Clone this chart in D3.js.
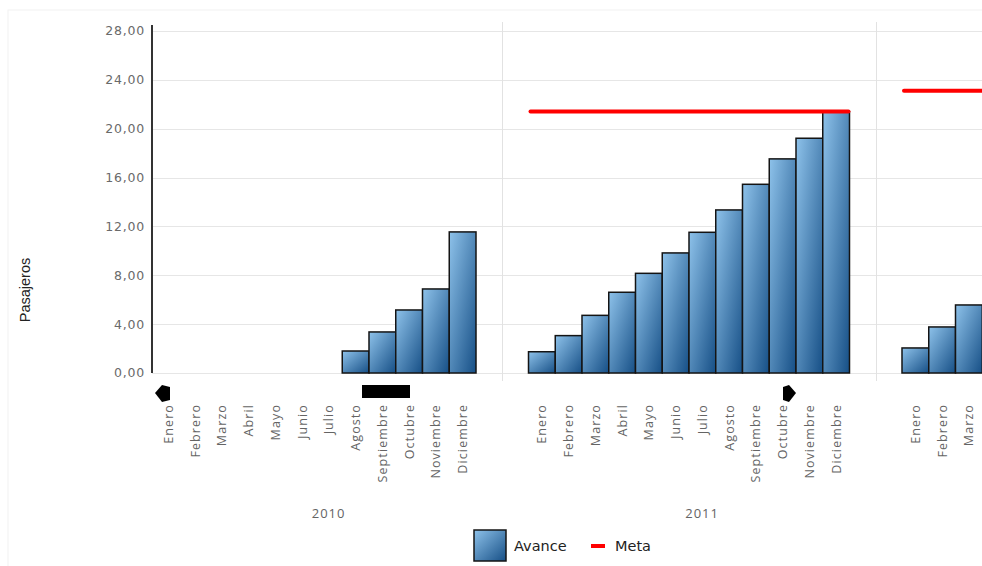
<!DOCTYPE html>
<html>
<head>
<meta charset="utf-8">
<script src="https://cdn.jsdelivr.net/npm/d3@7"></script>
<style>
  html, body { margin: 0; padding: 0; background: #fff; overflow: hidden; }
  svg { display: block; }
</style>
</head>
<body>
<svg id="chart" width="982" height="566"></svg>
<script>
// ---- data ----
const years = ["2010", "2011", "2012"];
const months = ["Enero", "Febrero", "Marzo", "Abril", "Mayo", "Junio", "Julio",
                "Agosto", "Septiembre", "Octubre", "Noviembre", "Diciembre"];
const avance2010 = [null, null, null, null, null, null, null, 1.80, 3.36, 5.16, 6.88, 11.55];
const avance2011 = [1.74, 3.06, 4.72, 6.61, 8.16, 9.83, 11.52, 13.35, 15.45, 17.53, 19.22, 21.40];
const avance2012 = [2.05, 3.77, 5.57, null, null, null, null, null, null, null, null, null];
const meta = [null, 21.40, 23.10];
const yTicks = [0, 4, 8, 12, 16, 20, 24, 28];
const seriesNames = ["Avance", "Meta"];

const avanceByYear = [avance2010, avance2011, avance2012];

// ---- layout ----
const W = 982, H = 566;
const plotLeft = 152, plotTop = 31, plotBottom = 373;
const svg = d3.select("#chart");

const defs = svg.append("defs");
const grad = defs.append("linearGradient").attr("id", "barGrad")
  .attr("x1", 0).attr("y1", 0).attr("x2", 1).attr("y2", 1);
grad.append("stop").attr("offset", "0%").attr("stop-color", "#8ec2ea");
grad.append("stop").attr("offset", "100%").attr("stop-color", "#164f86");

defs.append("clipPath").attr("id", "plotClip").append("rect")
  .attr("x", plotLeft).attr("y", 0).attr("width", W - plotLeft).attr("height", H);

const y = d3.scaleLinear().domain([0, 28]).range([plotBottom, plotTop]);

const yearStep = 373.5, gap = 52.5;
const xYear = d3.scaleBand().domain(years)
  .range([155, 155 + 3 * yearStep - gap])
  .paddingInner(gap / yearStep).paddingOuter(0);
const xMonth = d3.scaleBand().domain(months).range([0, xYear.bandwidth()]).padding(0);

// faint outer frame
svg.append("rect").attr("x", 8).attr("y", 10).attr("width", W).attr("height", H)
  .attr("fill", "none").attr("stroke", "#f2f2f2").attr("stroke-width", 1);

// horizontal grid
svg.append("g").selectAll("line").data(yTicks).join("line")
  .attr("x1", plotLeft).attr("x2", W)
  .attr("y1", d => Math.round(y(d)) + 0.5).attr("y2", d => Math.round(y(d)) + 0.5)
  .attr("stroke", "#e6e6e6").attr("stroke-width", 1);

// vertical separators between years
svg.append("g").selectAll("line").data(years.slice(1)).join("line")
  .attr("x1", d => Math.round(xYear(d) - gap / 2) + 0.5)
  .attr("x2", d => Math.round(xYear(d) - gap / 2) + 0.5)
  .attr("y1", 22).attr("y2", 381)
  .attr("stroke", "#e2e2e2").attr("stroke-width", 1);

// y axis labels
const yAxis = svg.append("g");
yAxis.selectAll("text").data(yTicks).join("text")
  .attr("x", 145).attr("y", d => y(d)).attr("dy", "0.35em")
  .attr("text-anchor", "end")
  .attr("font-family", "DejaVu Sans, Verdana, sans-serif")
  .attr("font-size", 12.5).attr("letter-spacing", 0.8)
  .attr("fill", "#6a6a6a")
  .text(d => d3.format(".2f")(d).replace(".", ","));

// y axis line
svg.append("line").attr("x1", plotLeft).attr("x2", plotLeft)
  .attr("y1", 25).attr("y2", plotBottom)
  .attr("stroke", "#333").attr("stroke-width", 2);

// y title
svg.append("text")
  .attr("transform", `translate(30,290) rotate(-90)`)
  .attr("text-anchor", "middle")
  .attr("font-family", "Liberation Sans, Arial, sans-serif")
  .attr("font-size", 14.5).attr("fill", "#222")
  .text("Pasajeros");

const plot = svg.append("g").attr("clip-path", "url(#plotClip)");

// bars
years.forEach((yr, i) => {
  const data = months.map((m, j) => ({ m, v: avanceByYear[i][j] })).filter(d => d.v != null);
  plot.append("g").selectAll("rect").data(data).join("rect")
    .attr("x", d => xYear(yr) + xMonth(d.m))
    .attr("width", xMonth.bandwidth())
    .attr("y", d => y(d.v))
    .attr("height", d => y(0) - y(d.v))
    .attr("fill", "url(#barGrad)")
    .attr("stroke", "#141414").attr("stroke-width", 1.5);
});

// meta lines
plot.append("g").selectAll("line").data(years.map((yr, i) => ({ yr, v: meta[i] })).filter(d => d.v != null))
  .join("line")
  .attr("x1", d => xYear(d.yr) + 2).attr("x2", d => xYear(d.yr) + xYear.bandwidth() - 1)
  .attr("y1", d => y(d.v)).attr("y2", d => y(d.v))
  .attr("stroke", "#ff0000").attr("stroke-width", 4).attr("stroke-linecap", "round");

// month labels (only those inside the visible window)
const monthCenter = (yr, m) => xYear(yr) + xMonth(m) + xMonth.bandwidth() / 2;
years.forEach(yr => {
  plot.append("g").selectAll("text").data(months.filter(m => monthCenter(yr, m) + 8 < W)).join("text")
    .attr("transform", m => `translate(${monthCenter(yr, m)},404) rotate(-90)`)
    .attr("dy", "0.35em")
    .attr("text-anchor", "end")
    .attr("font-family", "Open Sans, DejaVu Sans, sans-serif")
    .attr("font-size", 12.5).attr("letter-spacing", 1.1)
    .attr("fill", "#646464")
    .text(m => m);
});

// year labels
const yearCenter = d => xYear(d) + (xYear.bandwidth() + gap / 2) / 2;
plot.append("g").selectAll("text").data(years.filter(d => yearCenter(d) + 20 < W)).join("text")
  .attr("x", yearCenter)
  .attr("y", 518)
  .attr("text-anchor", "middle")
  .attr("font-family", "Open Sans, DejaVu Sans, sans-serif")
  .attr("font-size", 13).attr("letter-spacing", 1)
  .attr("fill", "#646464")
  .text(d => d);

// scroll controls (decorations)
svg.append("path").attr("d", "M155,393 L162,385 L170,387 L170,400 L162,402 Z").attr("fill", "#000");
svg.append("rect").attr("x", 362).attr("y", 385).attr("width", 48).attr("height", 13).attr("fill", "#000");
svg.append("path").attr("d", "M796,393 L789,385 L783,387 L783,400 L789,402 Z").attr("fill", "#000");

// legend
const leg = svg.append("g");
leg.append("rect").attr("x", 474).attr("y", 530).attr("width", 32).attr("height", 31)
  .attr("fill", "url(#barGrad)").attr("stroke", "#141414").attr("stroke-width", 1.5);
leg.append("text").attr("x", 514).attr("y", 551)
  .attr("font-family", "DejaVu Sans, Verdana, sans-serif").attr("font-size", 14.5)
  .attr("fill", "#222").text(seriesNames[0]);
leg.append("line").attr("x1", 591).attr("x2", 605).attr("y1", 546).attr("y2", 546)
  .attr("stroke", "#ff0000").attr("stroke-width", 4);
leg.append("text").attr("x", 615).attr("y", 551)
  .attr("font-family", "DejaVu Sans, Verdana, sans-serif").attr("font-size", 14.5)
  .attr("fill", "#222").text(seriesNames[1]);
</script>
</body>
</html>
